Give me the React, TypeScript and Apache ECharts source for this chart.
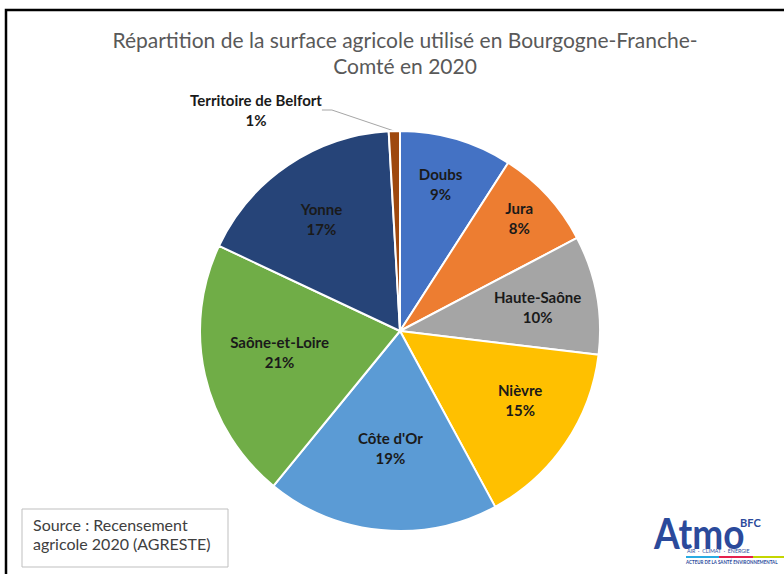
import React, { useEffect, useRef } from "react";
import * as echarts from "echarts";

const departements = [
  "Doubs",
  "Jura",
  "Haute-Saône",
  "Nièvre",
  "Côte d'Or",
  "Saône-et-Loire",
  "Yonne",
  "Territoire de Belfort",
];
const partsSAU = [9.1, 8.2, 9.6, 15.2, 18.8, 21.1, 17.1, 0.9];
const couleurs = [
  "#4472C4",
  "#ED7D31",
  "#A5A5A5",
  "#FFC000",
  "#5B9BD5",
  "#70AD47",
  "#264478",
  "#9E480E",
];
// label nudges (px) to mimic the spreadsheet's label placement
const decalages = [
  [0, -9],
  [13, -16],
  [-4, 2],
  [1, -12],
  [4, -26],
  [20, -11],
  [2, 7],
  [0, 0],
];
const titre = "Répartition de la surface agricole utilisé en Bourgogne-Franche-\nComté en 2020";
const source = "Source : Recensement\nagricole 2020 (AGRESTE)";
const logoLigne1 = "AIR  ·  CLIMAT  ·  ÉNERGIE";
const logoLigne2 = "ACTEUR DE LA SANTÉ ENVIRONNEMENTAL";

const FONT = "Lato, 'Open Sans', sans-serif";

function mesure(text: string, font: string): number {
  const c = document.createElement("canvas").getContext("2d");
  if (!c) return text.length * 6;
  c.font = font;
  return c.measureText(text).width;
}

export default function App() {
  const ref = useRef<HTMLDivElement>(null);
  useEffect(() => {
    if (!ref.current) return;
    const chart = echarts.init(ref.current, null, { renderer: "svg" });
    const center = [400, 331];
    const R = 200;
    const fmt = (p: any) => `${p.name}\n${Math.round(p.percent)}%`;
    const w1 = mesure(logoLigne1, "10px Lato");
    const w2 = mesure(logoLigne2, "bold 10px Lato");
    chart.setOption({
      animation: false,
      backgroundColor: "#ffffff",
      title: {
        text: titre,
        left: 400,
        textAlign: "center",
        top: 21,
        textStyle: {
          fontFamily: FONT,
          fontWeight: "normal",
          fontSize: 21,
          color: "#595959",
          lineHeight: 26,
        },
      },
      series: [
        {
          type: "pie",
          center,
          radius: [0, R],
          startAngle: 90,
          clockwise: true,
          silent: true,
          label: { show: false },
          labelLine: { show: false },
          itemStyle: { borderColor: "#ffffff", borderWidth: 2 },
          data: departements.map((name, i) => ({
            name,
            value: partsSAU[i],
            itemStyle: { color: couleurs[i] },
          })),
        },
        {
          type: "pie",
          center,
          radius: [82, R],
          startAngle: 90,
          clockwise: true,
          silent: true,
          itemStyle: { color: "rgba(0,0,0,0)", borderWidth: 0 },
          label: {
            show: true,
            position: "inside",
            formatter: fmt,
            fontFamily: FONT,
            fontWeight: "bold",
            fontSize: 15,
            lineHeight: 20,
            color: "#1a1a1a",
          },
          labelLine: { show: false },
          labelLayout: (p: any) => {
            if (p.dataIndex === 7) {
              return { x: 256, y: 110, align: "center", verticalAlign: "middle" };
            }
            return {};
          },
          data: departements.map((name, i) =>
            i === 7
              ? {
                  name,
                  value: partsSAU[i],
                  label: { position: "outside" },
                  labelLine: {
                    show: true,
                    length: 10,
                    length2: 10,
                    lineStyle: { color: "#A6A6A6", width: 1 },
                  },
                }
              : { name, value: partsSAU[i], label: { offset: decalages[i] } }
          ),
        },
      ],
      graphic: [
        {
          type: "rect",
          shape: { x: 6, y: 10, width: 800, height: 600 },
          style: { fill: "none", stroke: "#000", lineWidth: 2.5 },
          silent: true,
        },
        {
          type: "rect",
          shape: { x: 22, y: 509, width: 206, height: 58 },
          style: { fill: "#fff", stroke: "#BFBFBF", lineWidth: 1 },
        },
        {
          type: "text",
          x: 33,
          y: 515,
          style: {
            text: source,
            fontFamily: FONT,
            fontSize: 16,
            lineHeight: 19,
            fill: "#404040",
          },
        },
        {
          type: "text",
          x: 654,
          y: 512,
          scaleY: 1.12,
          style: {
            text: "Atmo",
            fontFamily: FONT,
            fontWeight: "bold",
            fontSize: 37,
            fill: "#2B4A9B",
          },
        },
        {
          type: "text",
          x: 740,
          y: 517,
          style: {
            text: "BFC",
            fontFamily: FONT,
            fontWeight: "bold",
            fontSize: 11,
            fill: "#2B4A9B",
          },
        },
        {
          type: "text",
          x: 687,
          y: 549,
          scaleX: 63 / w1,
          scaleY: 0.5,
          style: {
            text: logoLigne1,
            fontFamily: "Lato",
            fontSize: 10,
            fill: "#2B4A9B",
          },
        },
        { type: "rect", shape: { x: 686, y: 556, width: 33, height: 2 }, style: { fill: "#29ABE2" } },
        { type: "rect", shape: { x: 719, y: 556, width: 34, height: 2 }, style: { fill: "#E5214D" } },
        { type: "rect", shape: { x: 753, y: 556, width: 31, height: 2 }, style: { fill: "#C4D600" } },
        {
          type: "text",
          x: 686,
          y: 559,
          scaleX: 92 / w2,
          scaleY: 0.6,
          style: {
            text: logoLigne2,
            fontFamily: "Lato",
            fontWeight: "bold",
            fontSize: 10,
            fill: "#2B4A9B",
          },
        },
      ],
    });
    return () => chart.dispose();
  }, []);
  return (
    <div
      ref={ref}
      style={{ position: "absolute", left: 0, top: 0, width: 784, height: 574 }}
    />
  );
}
